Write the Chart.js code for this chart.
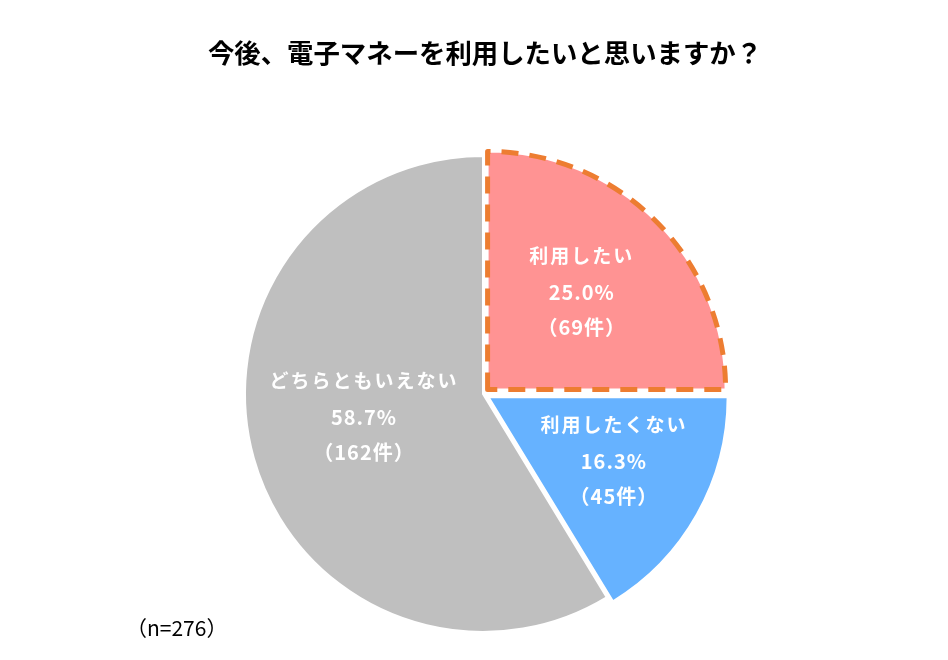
<!DOCTYPE html>
<html>
<head>
<meta charset="utf-8">
<script src="https://cdn.jsdelivr.net/npm/chart.js@4.4.1/dist/chart.umd.min.js"></script>
<style>
  html, body { margin: 0; padding: 0; background: #fff; }
  #wrap { width: 948px; height: 660px; position: relative; }
</style>
</head>
<body>
<div id="wrap"><canvas id="pieChart"></canvas></div>
<script>
// Data
const titleText = "今後、電子マネーを利用したいと思いますか？";
const sampleNote = "（n=276）";
const categories = ["利用したい", "利用したくない", "どちらともいえない"];
const counts = [69, 45, 162];
const percents = ["25.0%", "16.3%", "58.7%"];

const sliceColors = ["#FF9393", "#66B2FF", "#BFBFBF"];
const sliceOffsets = [26, 26, 0];
// label anchor (middle line), as fractions of the radius from the pie centre
const labelAnchors = [[0.415, -0.425], [0.55, 0.285], [-0.5, 0.1]];

const FONT = "'Noto Sans CJK JP', 'Noto Sans', sans-serif";

const overlayPlugin = {
  id: "overlay",
  afterDatasetsDraw(chart) {
    const ctx = chart.ctx;
    const meta = chart.getDatasetMeta(0);

    // dashed orange outline on the first slice
    const arc = meta.data[0];
    const p = arc.getProps(["x", "y", "startAngle", "endAngle", "outerRadius"], true);
    const half = (p.startAngle + p.endAngle) / 2;
    const off = sliceOffsets[0] / 4;
    ctx.save();
    ctx.translate(Math.cos(half) * off, Math.sin(half) * off);
    ctx.beginPath();
    ctx.moveTo(p.x, p.y);
    ctx.arc(p.x, p.y, p.outerRadius, p.startAngle, p.endAngle);
    ctx.closePath();
    ctx.strokeStyle = "#ED7D31";
    ctx.lineWidth = 5;
    ctx.lineJoin = "round";
    ctx.setLineDash([17, 11]);
    ctx.stroke();
    ctx.restore();

    // slice labels
    const cx = meta.data[2].x, cy = meta.data[2].y, r = meta.data[2].outerRadius;
    ctx.save();
    ctx.fillStyle = "#fff";
    ctx.textAlign = "center";
    ctx.textBaseline = "middle";
    categories.forEach((c, i) => {
      const lx = cx + labelAnchors[i][0] * r;
      const ly = cy + labelAnchors[i][1] * r;
      ctx.font = "bold 19px " + FONT;
      ctx.letterSpacing = "2px";
      ctx.fillText(c, lx, ly - 37);
      ctx.font = "bold 20px " + FONT;
      ctx.letterSpacing = "1px";
      ctx.fillText(percents[i], lx, ly);
      ctx.fillText("（" + counts[i] + "件）", lx, ly + 35);
    });
    ctx.restore();
  },
  afterDraw(chart) {
    const ctx = chart.ctx;
    ctx.save();
    ctx.fillStyle = "#000";
    ctx.textBaseline = "middle";
    ctx.textAlign = "center";
    ctx.font = "bold 26.4px " + FONT;
    ctx.fillText(titleText, 485, 53);
    ctx.textAlign = "left";
    ctx.font = "21px " + FONT;
    ctx.fillText(sampleNote, 126, 628);
    ctx.restore();
  }
};

new Chart(document.getElementById("pieChart"), {
  type: "pie",
  data: {
    labels: categories,
    datasets: [{
      data: counts,
      backgroundColor: sliceColors,
      borderColor: "#fff",
      borderWidth: 2,
      offset: sliceOffsets,
      hoverOffset: 0
    }]
  },
  options: {
    responsive: true,
    maintainAspectRatio: false,
    animation: false,
    radius: 238,
    layout: { padding: { top: 128, bottom: 0, left: 18, right: 0 } },
    plugins: {
      legend: { display: false },
      tooltip: { enabled: false }
    }
  },
  plugins: [overlayPlugin]
});
</script>
</body>
</html>
